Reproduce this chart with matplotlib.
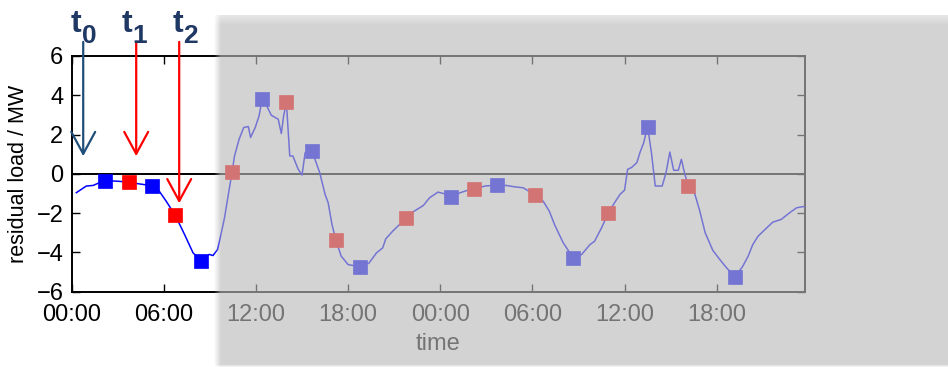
import numpy as np
import matplotlib
matplotlib.use('Agg')
import matplotlib.pyplot as plt
from matplotlib.patches import FancyArrowPatch

plt.rcParams['font.family'] = ['Liberation Sans', 'DejaVu Sans']

# residual load curve (hours since start, MW)
hours = [0.3, 0.95, 1.4, 1.8, 2.2, 2.9, 3.7, 4.3, 4.75, 5.25, 5.7, 6.15, 6.75, 7.35, 7.9,
         8.45, 8.95, 9.2, 9.5, 9.65, 9.95, 10.2, 10.45, 10.6, 10.9, 11.2, 11.5, 11.65, 11.95,
         12.2, 12.4, 12.7, 13.0, 13.45, 13.65, 13.8, 13.98, 14.2, 14.4, 14.75, 15.0, 15.2,
         15.65, 16.15, 16.5, 16.7, 16.95, 17.2, 17.55, 18.0, 18.75, 19.35, 19.85, 20.25,
         20.45, 20.9, 21.75, 22.2, 22.9, 23.3, 23.85, 24.2, 24.7, 25.3, 25.8, 26.2, 26.9,
         27.7, 28.3, 28.75, 29.4, 30.2, 30.7, 31.1, 31.45, 32.0, 32.65, 33.2, 33.75, 34.05,
         34.5, 34.95, 35.35, 35.7, 36.0, 36.2, 36.45, 36.8, 37.0, 37.25, 37.5, 37.75, 38.0,
         38.45, 38.7, 38.95, 39.2, 39.5, 39.7, 39.9, 40.15, 40.55, 40.9, 41.25, 41.75, 42.2,
         42.65, 43.2, 43.7, 44.05, 44.35, 44.7, 45.15, 45.65, 46.2, 46.75, 47.2, 47.6, 47.75]
load = [-0.96, -0.62, -0.59, -0.45, -0.35, -0.37, -0.42, -0.50, -0.55, -0.63, -0.88, -1.39,
        -2.12, -3.09, -4.02, -4.45, -4.10, -4.16, -3.85, -3.34, -2.24, -1.05, 0.11, 0.91,
        1.76, 2.36, 2.41, 1.85, 2.36, 2.95, 3.80, 3.46, 2.98, 2.78, 2.05, 2.95, 3.63, 0.91,
        0.91, 0.23, -0.06, 1.08, 1.16, 0.06, -1.05, -1.47, -2.58, -3.38, -4.19, -4.62, -4.73,
        -4.55, -4.02, -3.77, -3.31, -2.92, -2.27, -1.95, -1.61, -1.22, -0.93, -1.00, -1.16,
        -0.96, -0.83, -0.79, -0.62, -0.57, -0.59, -0.65, -0.71, -1.08, -1.39, -1.90, -2.60,
        -3.50, -4.28, -4.11, -3.60, -3.43, -2.75, -1.98, -1.47, -1.05, -0.83, 0.23, 0.32,
        0.57, 1.08, 1.59, 2.41, 1.08, -0.62, -0.62, 0.06, 1.11, 0.18, 0.18, 0.74, 0.06,
        -0.62, -0.96, -1.90, -3.00, -3.90, -4.36, -4.79, -5.25, -4.70, -4.19, -3.60, -3.17,
        -2.83, -2.46, -2.32, -1.98, -1.73, -1.67, -1.67]

# sampled points (squares)
sq_hours = [2.2, 3.7, 5.2, 6.75, 8.45, 10.45, 12.4, 13.95, 15.65, 17.2, 18.75, 21.75,
            24.7, 26.2, 27.7, 30.2, 32.65, 34.95, 37.5, 40.15, 43.2]
sq_load = [-0.35, -0.43, -0.64, -2.12, -4.45, 0.08, 3.82, 3.65, 1.15, -3.39, -4.72, -2.27,
           -1.17, -0.79, -0.56, -1.08, -4.29, -1.98, 2.40, -0.63, -5.25]
sq_colors = ['blue' if i % 2 == 0 else 'red' for i in range(len(sq_hours))]

xtick_hours = [0, 6, 12, 18, 24, 30, 36, 42]
xtick_labels = ['00:00', '06:00', '12:00', '18:00', '00:00', '06:00', '12:00', '18:00']
yticks = [-6, -4, -2, 0, 2, 4, 6]

t_subs = ['0', '1', '2']
arrow_hours = [0.75, 4.2, 7.0]
arrow_tips = [0.9, 0.9, -1.5]
arrow_colors = ['#1f4e79', 'red', 'red']

W, H = 948, 367
fig = plt.figure(figsize=(W / 100, H / 100), dpi=100)
ax = fig.add_axes([71.7 / W, 1 - 291.7 / H, (805 - 71.7) / W, (291.7 - 56) / H])

ax.axhline(0, color='black', lw=1.4, zorder=2)
ax.plot(hours, load, color='blue', lw=1.1, zorder=3)
for h, v, c in zip(sq_hours, sq_load, sq_colors):
    ax.plot(h, v, 's', color=c, ms=9.4, mec=c, mew=0.5, zorder=4)

ax.set_xlim(0, 47.75)
ax.set_ylim(-6, 6)
ax.set_xticks(xtick_hours, xtick_labels)
ax.set_yticks(yticks)
ax.tick_params(direction='in', length=5.5, width=1, top=True, right=True,
               labelsize=17, colors='black')
ax.tick_params(axis='x', pad=8.5)
ax.tick_params(axis='y', pad=6)
for s in ax.spines.values():
    s.set_linewidth(1.4)
ax.set_ylabel('residual load / MW', fontsize=15.5)
ax.yaxis.set_label_coords(-0.058, 0.5)
ax.set_xlabel('time', fontsize=17)
ax.xaxis.set_label_coords(0.5, -0.176)

# arrows for t0, t1, t2
for h, tip, c in zip(arrow_hours, arrow_tips, arrow_colors):
    arr = FancyArrowPatch((h, 6.72), (h, tip),
                          arrowstyle='->,head_length=1.58,head_width=0.86',
                          mutation_scale=10, color=c, lw=1.6,
                          shrinkA=0, shrinkB=0, clip_on=False, zorder=5)
    ax.add_patch(arr)

# t labels (figure pixel coordinates)
navy = '#1f3864'
t_x = [75.5, 127, 177.5]
d_x = [89, 140, 190.5]
for tx, dx, sub in zip(t_x, d_x, t_subs):
    fig.text(tx / W, 1 - 32 / H, 't', ha='center', va='baseline', fontsize=23,
             fontweight='bold', color=navy)
    fig.text(dx / W, 1 - 43 / H, sub, ha='center', va='baseline', fontsize=19,
             fontweight='bold', color=navy)

# semi-transparent gray overlay with soft edges
ov = fig.add_axes([0, 0, 1, 1])
ov.set_xlim(0, W)
ov.set_ylim(H, 0)
ov.axis('off')
x0, y0 = 214, 15
xs = np.arange(x0, W) + 0.5
ys = np.arange(y0, H) + 0.5
rx = np.clip((xs - x0) / 7.0, 0, 1)
ry = np.clip(0.55 + 0.45 * (ys - y0) / 10.0, 0, 1)
rb = np.clip((H - 0.5 - ys) / 3.0 + 0.3, 0, 1)
alpha = 0.63 * np.outer(ry * rb, rx)
img = np.zeros((len(ys), len(xs), 4))
img[..., :3] = 186 / 255
img[..., 3] = alpha
ov.imshow(img, extent=(x0, W, H, y0), aspect='auto', interpolation='bilinear', zorder=10)

fig.savefig('out.png', dpi=100)
